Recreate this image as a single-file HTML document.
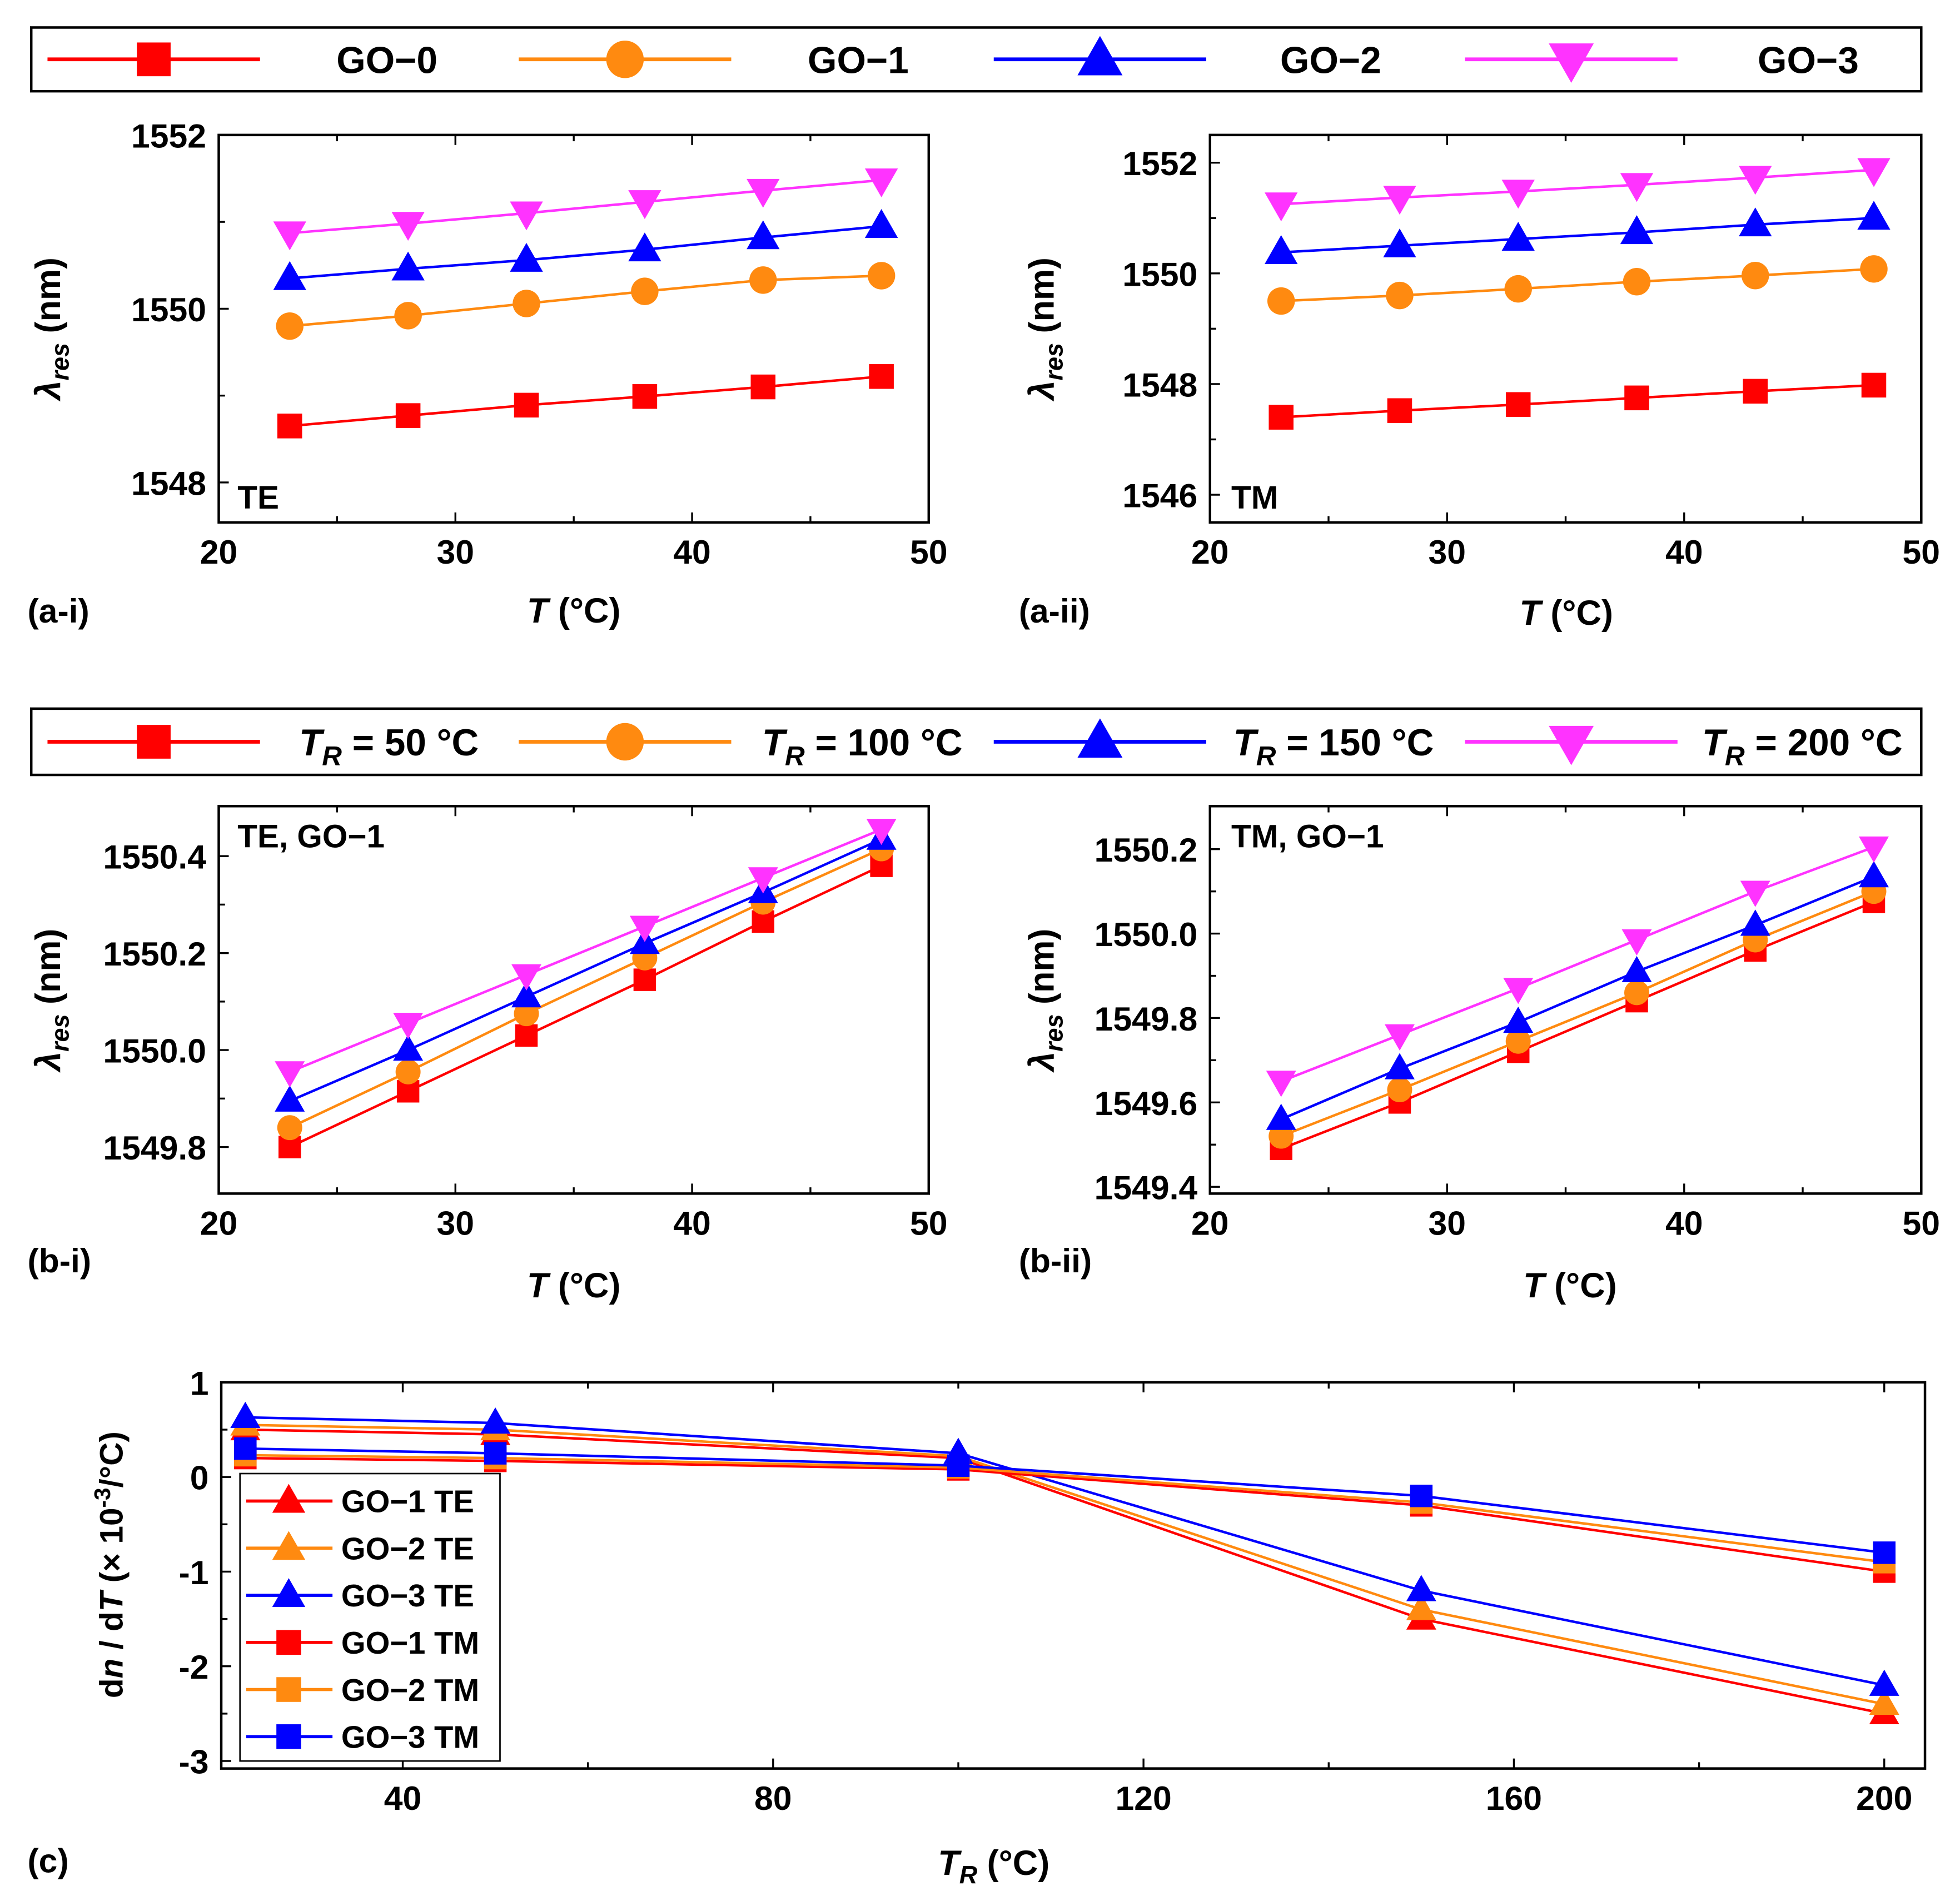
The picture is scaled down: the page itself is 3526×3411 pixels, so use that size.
<!DOCTYPE html>
<html><head><meta charset="utf-8">
<style>
html,body{margin:0;padding:0;background:#fff;}
svg{display:block;}
text{font-family:"Liberation Sans",Arial,sans-serif;font-weight:bold;fill:#000;}
</style></head>
<body>
<svg id="fig" width="3526" height="3411" viewBox="0 0 1568 1517" preserveAspectRatio="none" xmlns="http://www.w3.org/2000/svg">
<rect x="0" y="0" width="1568" height="1517" fill="#fff"/>
</svg>
<script>
const T = [23,28,33,38,43,48];
const aiGO0 = [1548.65,1548.77,1548.89,1548.99,1549.10,1549.22];
const aiGO1 = [1549.80,1549.92,1550.06,1550.20,1550.33,1550.38];
const aiGO2 = [1550.35,1550.46,1550.56,1550.68,1550.82,1550.95];
const aiGO3 = [1550.87,1550.98,1551.10,1551.23,1551.36,1551.48];
const aiiGO0 = [1547.40,1547.52,1547.63,1547.75,1547.87,1547.98];
const aiiGO1 = [1549.50,1549.60,1549.72,1549.85,1549.96,1550.08];
const aiiGO2 = [1550.38,1550.50,1550.62,1550.74,1550.88,1551.00];
const aiiGO3 = [1551.25,1551.37,1551.48,1551.60,1551.73,1551.87];
const biTR50 = [1549.80,1549.915,1550.03,1550.145,1550.265,1550.38];
const biTR100 = [1549.84,1549.955,1550.075,1550.19,1550.305,1550.415];
const biTR150 = [1549.895,1550.00,1550.11,1550.22,1550.325,1550.435];
const biTR200 = [1549.955,1550.055,1550.155,1550.255,1550.355,1550.455];
const biiTR50 = [1549.49,1549.60,1549.72,1549.84,1549.96,1550.075];
const biiTR100 = [1549.52,1549.63,1549.745,1549.86,1549.985,1550.10];
const biiTR150 = [1549.56,1549.68,1549.79,1549.91,1550.02,1550.135];
const biiTR200 = [1549.65,1549.76,1549.87,1549.985,1550.10,1550.205];
const TR = [23,50,100,150,200];
const cGO1TE = [0.50,0.45,0.20,-1.50,-2.50];
const cGO2TE = [0.55,0.50,0.22,-1.40,-2.40];
const cGO3TE = [0.63,0.57,0.25,-1.20,-2.20];
const cGO1TM = [0.20,0.17,0.08,-0.30,-1.00];
const cGO2TM = [0.23,0.20,0.10,-0.27,-0.90];
const cGO3TM = [0.30,0.25,0.12,-0.20,-0.80];
const xTicksT = [20,30,40,50];
const yTicksAi = [1548,1550,1552];
const yTicksAii = [1546,1548,1550,1552];
const yTicksBi = [1549.8,1550.0,1550.2,1550.4];
const yTicksBii = [1549.4,1549.6,1549.8,1550.0,1550.2];
const xTicksC = [40,80,120,160,200];
const yTicksC = [-3,-2,-1,0,1];

const NS="http://www.w3.org/2000/svg";
const svg=document.getElementById('fig');
function mk(tag,attrs,parent){const e=document.createElementNS(NS,tag);for(const k in attrs)e.setAttribute(k,attrs[k]);(parent||svg).appendChild(e);return e;}
const RED='#ff0000',ORG='#ff8a10',BLU='#0000ff',MAG='#ff33ff';

function marker(g,shape,x,y,col,s){
  let e;
  if(shape==='sq'){e=mk('rect',{x:x-s*0.9,y:y-s*0.9,width:s*1.8,height:s*1.8,fill:col},g);}
  else if(shape==='ci'){e=mk('circle',{cx:x,cy:y,r:s,fill:col},g);}
  else if(shape==='up'){e=mk('polygon',{points:`${x},${y-s*1.25} ${x-s*1.2},${y+s*0.85} ${x+s*1.2},${y+s*0.85}`,fill:col},g);}
  else {e=mk('polygon',{points:`${x},${y+s*1.25} ${x-s*1.2},${y-s*0.85} ${x+s*1.2},${y-s*0.85}`,fill:col},g);}
  
  
}

function panel(o){
  const g=mk('g',{});
  
  
  const sx=v=>o.x0+(v-o.xmin)/(o.xmax-o.xmin)*(o.x1-o.x0);
  const sy=v=>o.y1-(v-o.ymin)/(o.ymax-o.ymin)*(o.y1-o.y0);
  o.series.forEach(s=>{
    const sg=mk('g',{},g);
    
    
    const pts=s.x.map((xv,i)=>sx(xv)+','+sy(s.y[i])).join(' ');
    mk('polyline',{points:pts,fill:'none',stroke:s.col,'stroke-width':2},sg);
    s.x.forEach((xv,i)=>marker(sg,s.shape,sx(xv),sy(s.y[i]),s.col,o.ms));
  });
  const f=mk('rect',{x:o.x0,y:o.y0,width:o.x1-o.x0,height:o.y1-o.y0,fill:'none',stroke:'#000','stroke-width':2},g);
  
  
  const xg=mk('g',{},g);
  
  
  o.xt.forEach(v=>{
    const X=sx(v);
    mk('line',{x1:X,x2:X,y1:o.y1,y2:o.y1-8,stroke:'#000','stroke-width':1.5},xg);
    mk('line',{x1:X,x2:X,y1:o.y0,y2:o.y0+8,stroke:'#000','stroke-width':1.5},xg);
    const t=mk('text',{x:X,y:o.y1+33,'text-anchor':'middle','font-size':27},xg);t.textContent=v;
  });
  o.xm.forEach(v=>{
    const X=sx(v);
    mk('line',{x1:X,x2:X,y1:o.y1,y2:o.y1-5,stroke:'#000','stroke-width':1.5},xg);
    mk('line',{x1:X,x2:X,y1:o.y0,y2:o.y0+5,stroke:'#000','stroke-width':1.5},xg);
  });
  const yg=mk('g',{},g);
  
  
  o.yt.forEach(v=>{
    const Y=sy(v);
    mk('line',{x1:o.x0,x2:o.x0+8,y1:Y,y2:Y,stroke:'#000','stroke-width':1.5},yg);
    const t=mk('text',{x:o.x0-10,y:Y+10,'text-anchor':'end','font-size':27},yg);t.textContent=o.fmt?v.toFixed(o.fmt):v;
  });
  o.ym.forEach(v=>{
    const Y=sy(v);
    mk('line',{x1:o.x0,x2:o.x0+5,y1:Y,y2:Y,stroke:'#000','stroke-width':1.5},yg);
  });
  return g;
}
function text(x,y,str,size,name,anchor){const t=mk('text',{x:x,y:y,'font-size':size,'text-anchor':anchor||'start'});t.innerHTML=str;
  
  
  return t;}
function ylabel(x,y,name,inner,size){const t=mk('text',{x:0,y:0,'font-size':size||28,'text-anchor':'middle',transform:`translate(${x},${y}) rotate(-90)`});t.innerHTML=inner;
  
  }

const lam='<tspan font-style="italic">λ</tspan><tspan font-style="italic" font-size="20" dy="7">res</tspan><tspan dy="-7"> (nm)</tspan>';

panel({name:'panel-a-i',x0:175,x1:743,y0:108,y1:418,xmin:20,xmax:50,ymin:1547.54,ymax:1552,xt:xTicksT,xm:[25,35,45],yt:yTicksAi,ym:[1549,1551],ms:11,
 series:[{name:'series-go-0',x:T,y:aiGO0,col:RED,shape:'sq'},{name:'series-go-1',x:T,y:aiGO1,col:ORG,shape:'ci'},{name:'series-go-2',x:T,y:aiGO2,col:BLU,shape:'up'},{name:'series-go-3',x:T,y:aiGO3,col:MAG,shape:'dn'}]});
panel({name:'panel-a-ii',x0:968,x1:1537,y0:108,y1:418,xmin:20,xmax:50,ymin:1545.5,ymax:1552.5,xt:xTicksT,xm:[25,35,45],yt:yTicksAii,ym:[1547,1549,1551],ms:11,
 series:[{name:'series-go-0',x:T,y:aiiGO0,col:RED,shape:'sq'},{name:'series-go-1',x:T,y:aiiGO1,col:ORG,shape:'ci'},{name:'series-go-2',x:T,y:aiiGO2,col:BLU,shape:'up'},{name:'series-go-3',x:T,y:aiiGO3,col:MAG,shape:'dn'}]});
panel({name:'panel-b-i',x0:175,x1:743,y0:645,y1:955,xmin:20,xmax:50,ymin:1549.704,ymax:1550.503,xt:xTicksT,xm:[25,35,45],yt:yTicksBi,ym:[1549.9,1550.1,1550.3],fmt:1,ms:10,
 series:[{name:'series-tr-50',x:T,y:biTR50,col:RED,shape:'sq'},{name:'series-tr-100',x:T,y:biTR100,col:ORG,shape:'ci'},{name:'series-tr-150',x:T,y:biTR150,col:BLU,shape:'up'},{name:'series-tr-200',x:T,y:biTR200,col:MAG,shape:'dn'}]});
panel({name:'panel-b-ii',x0:968,x1:1537,y0:645,y1:955,xmin:20,xmax:50,ymin:1549.384,ymax:1550.302,xt:xTicksT,xm:[25,35,45],yt:yTicksBii,ym:[1549.5,1549.7,1549.9,1550.1],fmt:1,ms:10,
 series:[{name:'series-tr-50',x:T,y:biiTR50,col:RED,shape:'sq'},{name:'series-tr-100',x:T,y:biiTR100,col:ORG,shape:'ci'},{name:'series-tr-150',x:T,y:biiTR150,col:BLU,shape:'up'},{name:'series-tr-200',x:T,y:biiTR200,col:MAG,shape:'dn'}]});
panel({name:'panel-c',x0:177,x1:1540,y0:1106,y1:1415,xmin:20.4,xmax:204.4,ymin:-3.08,ymax:1,xt:xTicksC,xm:[60,100,140,180],yt:yTicksC,ym:[-2.5,-1.5,-0.5,0.5],ms:10,
 series:[{name:'series-go-1-te',x:TR,y:cGO1TE,col:RED,shape:'up'},{name:'series-go-2-te',x:TR,y:cGO2TE,col:ORG,shape:'up'},{name:'series-go-3-te',x:TR,y:cGO3TE,col:BLU,shape:'up'},
 {name:'series-go-1-tm',x:TR,y:cGO1TM,col:RED,shape:'sq'},{name:'series-go-2-tm',x:TR,y:cGO2TM,col:ORG,shape:'sq'},{name:'series-go-3-tm',x:TR,y:cGO3TM,col:BLU,shape:'sq'}]});

text(190,407,'TE',26,'label-te');
text(985,407,'TM',26,'label-tm');
text(190,678,'TE, GO−1',26,'label-te-go1');
text(985,678,'TM, GO−1',26,'label-tm-go1');
const xt='<tspan font-style="italic">T</tspan> (°C)';
text(459,498,xt,28,'x-axis-title','middle');
text(1253,500,xt,28,'x-axis-title','middle');
text(459,1038,xt,28,'x-axis-title','middle');
text(1256,1038,xt,28,'x-axis-title','middle');
text(795,1500,'<tspan font-style="italic">T</tspan><tspan font-style="italic" font-size="20" dy="7">R</tspan><tspan dy="-7"> (°C)</tspan>',28,'x-axis-title','middle');
ylabel(48,263,'y-axis-title',lam);
ylabel(843,263,'y-axis-title',lam);
ylabel(48,800,'y-axis-title',lam);
ylabel(843,800,'y-axis-title',lam);
ylabel(98,1252,'y-axis-title','d<tspan font-style="italic">n</tspan> / d<tspan font-style="italic">T</tspan> (× 10<tspan font-size="18" dy="-10">-3</tspan><tspan dy="10">/°C)</tspan>',26);
text(22,498,'(a-i)',27,'panel-label-a-i');
text(815,498,'(a-ii)',27,'panel-label-a-ii');
text(22,1018,'(b-i)',27,'panel-label-b-i');
text(815,1018,'(b-ii)',27,'panel-label-b-ii');
text(22,1498,'(c)',27,'panel-label-c');

function topLegend(y0,y1,entries,name){
  const g=mk('g',{});
  
  
  mk('rect',{x:25,y:y0,width:1512,height:y1-y0,fill:'#fff',stroke:'#000','stroke-width':2},g);
  const cy=(y0+y1)/2;
  entries.forEach((e,i)=>{
    const eg=mk('g',{},g);
    
    
    const lx=[38,415,795,1172][i];
    mk('line',{x1:lx,x2:lx+170,y1:cy,y2:cy,stroke:e.col,'stroke-width':3},eg);
    marker(eg,e.shape,lx+85,cy,e.col,15);
    const t=mk('text',{x:e.tx,y:cy+11,'font-size':30,'text-anchor':'end'},eg);t.innerHTML=e.label;
  });
}
topLegend(22,73,[{col:RED,shape:'sq',label:'GO−0',tx:350},{col:ORG,shape:'ci',label:'GO−1',tx:727},{col:BLU,shape:'up',label:'GO−2',tx:1105},{col:MAG,shape:'dn',label:'GO−3',tx:1487}],'legend-go');
const trl=v=>'<tspan font-style="italic">T</tspan><tspan font-style="italic" font-size="22" dy="8">R</tspan><tspan dy="-8"> = '+v+' °C</tspan>';
topLegend(567,620,[{col:RED,shape:'sq',label:trl(50),tx:383},{col:ORG,shape:'ci',label:trl(100),tx:770},{col:BLU,shape:'up',label:trl(150),tx:1147},{col:MAG,shape:'dn',label:trl(200),tx:1522}],'legend-tr');

(function(){
  const g=mk('g',{});
  
  
  mk('rect',{x:192,y:1179,width:208,height:230,fill:'#fff',stroke:'#000','stroke-width':1.2},g);
  const ents=[[RED,'up','GO−1 TE'],[ORG,'up','GO−2 TE'],[BLU,'up','GO−3 TE'],[RED,'sq','GO−1 TM'],[ORG,'sq','GO−2 TM'],[BLU,'sq','GO−3 TM']];
  ents.forEach((e,i)=>{
    const eg=mk('g',{},g);
    
    
    const cy=1201+i*37.7;
    mk('line',{x1:197,x2:266,y1:cy,y2:cy,stroke:e[0],'stroke-width':2.5},eg);
    marker(eg,e[1],231,cy,e[0],11);
    const t=mk('text',{x:273,y:cy+9,'font-size':25},eg);t.textContent=e[2];
  });
})();
</script>
</body></html>
